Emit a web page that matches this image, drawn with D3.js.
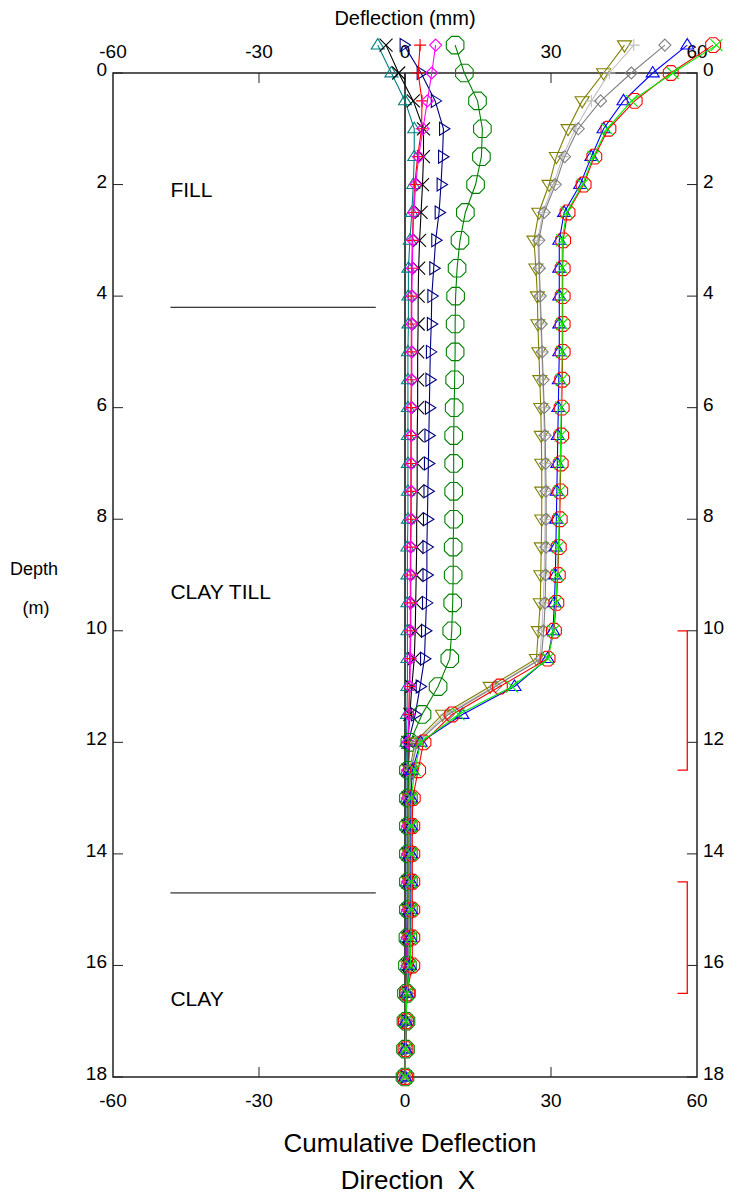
<!DOCTYPE html>
<html>
<head>
<meta charset="utf-8">
<script src="https://cdn.jsdelivr.net/npm/d3@7"></script>
<style>
  body { margin: 0; background: #fff; }
  text { font-family: "Liberation Sans", Arial, sans-serif; fill: #000; white-space: pre; }
</style>
</head>
<body>
<div id="inclinometer"></div>
<script>
// depth of each reading (m)
const depths = [-0.5, 0, 0.5, 1, 1.5, 2, 2.5, 3, 3.5, 4, 4.5, 5, 5.5, 6, 6.5, 7, 7.5, 8, 8.5, 9,
    9.5, 10, 10.5, 11, 11.5, 12, 12.5, 13, 13.5, 14, 14.5, 15, 15.5, 16, 16.5, 17, 17.5, 18];

// cumulative deflection (mm), one list per reading
const tealTri = [-5.6,-2.8,0.0,1.9,1.9,1.7,1.4,1.0,0.7,0.7, 0.7,0.6,0.6,0.6,0.6,0.6,0.6,0.6,0.5,0.5,
    0.5,0.5,0.5,0.5,0.4,0.3,0.4,0.4,0.4,0.4, 0.4,0.4,0.3,0.3,0.2,0.1,0.1,0.0];
const blackX = [-3.9,-1.3,1.7,3.8,3.8,3.6,3.3,3.0,2.8,2.7, 2.7,2.6,2.6,2.6,2.5,2.5,2.5,2.4,2.4,2.3,
    2.2,2.1,1.9,1.4,1.0,0.6,0.6,0.6,0.6,0.6, 0.6,0.6,0.5,0.5,0.3,0.2,0.1,0.0];
const navyTri = [-0.2,3.3,6.2,7.9,7.7,7.4,7.0,6.3,5.9,5.5, 5.4,5.2,5.1,5.0,4.9,4.8,4.7,4.6,4.5,4.5,
    4.4,4.2,4.0,3.1,2.1,0.7,0.6,0.6,0.6,0.6, 0.6,0.6,0.5,0.5,0.3,0.2,0.1,0.0];
const redPlus = [3.1,2.7,3.5,3.4,2.6,2.0,1.7,1.5,1.4,1.3, 1.3,1.3,1.3,1.2,1.2,1.2,1.2,1.2,1.1,1.1,
    1.1,1.1,1.0,0.9,0.8,0.6,0.6,0.6,0.6,0.6, 0.6,0.6,0.5,0.5,0.3,0.2,0.1,0.0];
const magentaDia = [6.3,5.5,4.6,3.7,2.8,2.2,1.8,1.6,1.5,1.4, 1.4,1.4,1.4,1.3,1.3,1.3,1.3,1.3,1.2,1.2,
    1.2,1.2,1.1,1.0,0.8,0.6,0.5,0.5,0.5,0.5, 0.5,0.5,0.4,0.4,0.3,0.2,0.1,0.0];
const greenOct = [10.3,12.2,14.9,15.9,15.7,14.5,12.4,11.3,10.7,10.4, 10.3,10.3,10.2,10.1,10.0,10.0,10.0,10.0,9.9,9.9,
    9.8,9.6,9.2,6.8,3.5,1.0,0.7,0.7,0.7,0.7, 0.7,0.7,0.6,0.5,0.3,0.2,0.1,0.0];
const oliveTri = [45.1,40.8,36.4,33.5,31.1,29.6,27.5,26.5,26.9,27.2, 27.3,27.5,27.7,27.9,28.0,28.1,28.1,28.1,28.0,27.9,
    27.8,27.4,27.0,17.5,7.7,2.0,1.0,0.8,0.8,0.8, 0.8,0.8,0.7,0.6,0.3,0.2,0.1,0.0];
const silverPlus = [47.0,42.0,38.3,35.0,32.4,30.5,28.3,27.3,27.5,27.7, 27.9,28.1,28.3,28.5,28.6,28.7,28.8,28.8,28.7,28.6,
    28.4,28.1,27.7,18.3,8.4,2.3,1.1,0.9,0.9,0.9, 0.9,0.9,0.8,0.7,0.3,0.2,0.1,0.0];
const grayDia = [53.4,46.5,40.2,35.6,32.8,30.9,28.6,27.5,27.6,27.8, 28.0,28.2,28.4,28.6,28.8,28.9,29.0,29.0,29.0,28.9,
    28.8,28.5,28.0,18.6,8.9,2.6,1.2,0.9,0.9,0.9, 0.9,0.9,0.8,0.7,0.3,0.2,0.1,0.0];
const blueTri = [58.0,50.9,44.9,40.8,38.3,36.0,32.7,31.7,31.7,31.7, 31.7,31.7,31.6,31.5,31.4,31.3,31.2,31.1,31.0,30.9,
    30.7,30.4,29.3,22.5,11.8,3.2,1.5,1.2,1.2,1.2, 1.2,1.2,1.1,1.0,0.4,0.2,0.1,0.0];
const redOct = [63.3,54.6,47.2,41.8,38.9,36.7,33.4,32.5,32.4,32.4, 32.4,32.4,32.3,32.2,32.1,32.0,31.9,31.8,31.6,31.4,
    31.1,30.6,29.3,19.5,9.7,3.8,2.7,1.6,1.5,1.5, 1.5,1.5,1.5,1.5,0.4,0.2,0.1,0.0];
const limeX = [64.0,55.0,46.6,41.5,38.7,36.5,33.2,32.3,32.3,32.3, 32.3,32.3,32.2,32.1,32.0,31.9,31.8,31.7,31.5,31.3,
    31.0,30.5,29.4,22.0,11.0,3.2,2.0,1.3,1.3,1.3, 1.3,1.3,1.2,1.1,0.4,0.2,0.1,0.0];

// axis ticks
const xTicks = [-60, -30, 0, 30, 60];
const yTicks = [0, 2, 4, 6, 8, 10, 12, 14, 16, 18];

// soil layers and zones
const layerNames = ["FILL", "CLAY TILL", "CLAY"];
const layerLabelDepths = [2.1, 9.3, 16.6];
const layerBoundaries = [4.2, 14.7];
const boundaryExtent = [-48.2, -6];
const zoneRanges = [[10, 12.5], [14.5, 16.5]];

// series styles, drawing order
const series = [
    {values: tealTri, color: "#008080", shape: "triUp", size: 6.5},
    {values: blackX, color: "#000000", shape: "cross", size: 6.5},
    {values: navyTri, color: "#000080", shape: "triRight", size: 6.5},
    {values: redPlus, color: "#ff0000", shape: "plus", size: 6},
    {values: magentaDia, color: "#ff00ff", shape: "diamond", size: 6},
    {values: greenOct, color: "#008000", shape: "oct", size: 9.5},
    {values: oliveTri, color: "#808000", shape: "triDown", size: 7},
    {values: silverPlus, color: "#c0c0c0", shape: "plus", size: 6},
    {values: grayDia, color: "#808080", shape: "diamond", size: 6},
    {values: blueTri, color: "#0000ff", shape: "triUp", size: 6.5},
    {values: redOct, color: "#ff0000", shape: "oct", size: 8},
    {values: limeX, color: "#00ee00", shape: "cross", size: 6}
];

const margin = {top: 73, right: 43, bottom: 121, left: 113},
    width = 740 - margin.left - margin.right,
    height = 1198 - margin.top - margin.bottom;

const svg = d3.select("#inclinometer")
    .append("svg")
    .attr("width", 740)
    .attr("height", 1198)
    .append("g")
    .attr("transform", `translate(${margin.left}, ${margin.top})`);

const x = d3.scaleLinear().domain([-60, 60]).range([0, width]);
const y = d3.scaleLinear().domain([0, 18]).range([0, height]);

// marker outlines
function marker(shape, r) {
    if (shape === "triUp") return `M0,${-r}L${r},${r * 0.6}L${-r},${r * 0.6}Z`;
    if (shape === "triDown") return `M0,${r}L${r},${-r * 0.6}L${-r},${-r * 0.6}Z`;
    if (shape === "triRight") return `M${r},0L${-r * 0.6},${r}L${-r * 0.6},${-r}Z`;
    if (shape === "cross") return `M${-r},${-r}L${r},${r}M${-r},${r}L${r},${-r}`;
    if (shape === "plus") return `M${-r},0L${r},0M0,${-r}L0,${r}`;
    if (shape === "diamond") return `M0,${-r}L${r},0L0,${r}L${-r},0Z`;
    const pts = d3.range(8).map(function(k) {
        const a = Math.PI / 8 + k * Math.PI / 4;
        return [r * Math.cos(a), r * Math.sin(a)];
    });
    return "M" + pts.join("L") + "Z";
}

// zero line
svg.append("line")
    .attr("x1", x(0)).attr("x2", x(0))
    .attr("y1", y(0)).attr("y2", y(18))
    .attr("stroke", "#333")
    .attr("stroke-width", 1.8);

// frame
svg.append("rect")
    .attr("width", width).attr("height", height)
    .attr("fill", "none")
    .attr("stroke", "#222")
    .attr("stroke-width", 1.5);

// ticks, all pointing inward
const tickLen = 10;
xTicks.slice(1, -1).forEach(function(t) {
    svg.append("line").attr("x1", x(t)).attr("x2", x(t)).attr("y1", 0).attr("y2", tickLen).attr("stroke", "#222");
    svg.append("line").attr("x1", x(t)).attr("x2", x(t)).attr("y1", height).attr("y2", height - tickLen).attr("stroke", "#222");
});
yTicks.forEach(function(t) {
    svg.append("line").attr("x1", 0).attr("x2", tickLen).attr("y1", y(t)).attr("y2", y(t)).attr("stroke", "#222");
    svg.append("line").attr("x1", width).attr("x2", width - tickLen).attr("y1", y(t)).attr("y2", y(t)).attr("stroke", "#222");
});

// tick labels
const labels = svg.append("g").style("font-size", "19px");
xTicks.forEach(function(t) {
    labels.append("text").attr("x", x(t)).attr("y", -15).attr("text-anchor", "middle").text(t);
    labels.append("text").attr("x", x(t)).attr("y", height + 30).attr("text-anchor", "middle").text(t);
});
yTicks.forEach(function(t) {
    labels.append("text").attr("x", -6).attr("y", y(t) + 3).attr("text-anchor", "end").text(t);
    labels.append("text").attr("x", width + 6).attr("y", y(t) + 3).attr("text-anchor", "start").text(t);
});

// soil layers
layerBoundaries.forEach(function(d) {
    svg.append("line")
        .attr("x1", x(boundaryExtent[0])).attr("x2", x(boundaryExtent[1]))
        .attr("y1", y(d)).attr("y2", y(d))
        .attr("stroke", "#000");
});
layerNames.forEach(function(name, i) {
    svg.append("text")
        .attr("x", x(boundaryExtent[0]))
        .attr("y", y(layerLabelDepths[i]) + 7)
        .style("font-size", "21px")
        .text(name);
});

// red zone brackets
zoneRanges.forEach(function(r) {
    svg.append("path")
        .attr("d", `M${x(56)},${y(r[0])}H${x(58)}V${y(r[1])}H${x(56)}`)
        .attr("fill", "none")
        .attr("stroke", "#ff0000")
        .attr("stroke-width", 1.3);
});

// readings
const line = d3.line()
    .x(function(d) { return x(d[1]); })
    .y(function(d) { return y(d[0]); });

series.forEach(function(s) {
    const pts = depths.map(function(d, i) { return [d, s.values[i]]; });
    svg.append("path")
        .datum(pts)
        .attr("d", line)
        .attr("fill", "none")
        .attr("stroke", s.color)
        .attr("stroke-width", 1.1);
    svg.selectAll(null)
        .data(pts)
        .enter()
        .append("path")
        .attr("transform", function(d) { return `translate(${x(d[1])}, ${y(d[0])})`; })
        .attr("d", marker(s.shape, s.size))
        .attr("fill", "none")
        .attr("stroke", s.color)
        .attr("stroke-width", 1.1);
});

// titles
const root = d3.select("#inclinometer svg");
root.append("text").attr("x", 405).attr("y", 25).attr("text-anchor", "middle")
    .style("font-size", "20px").text("Deflection (mm)");
root.append("text").attr("x", 410).attr("y", 1152).attr("text-anchor", "middle")
    .style("font-size", "26px").text("Cumulative Deflection");
root.append("text").attr("x", 408).attr("y", 1189).attr("text-anchor", "middle")
    .style("font-size", "26px").text("Direction  X");
root.append("text").attr("x", 34).attr("y", 575).attr("text-anchor", "middle")
    .style("font-size", "18px").text("Depth");
root.append("text").attr("x", 36).attr("y", 614).attr("text-anchor", "middle")
    .style("font-size", "18px").text("(m)");
</script>
</body>
</html>
